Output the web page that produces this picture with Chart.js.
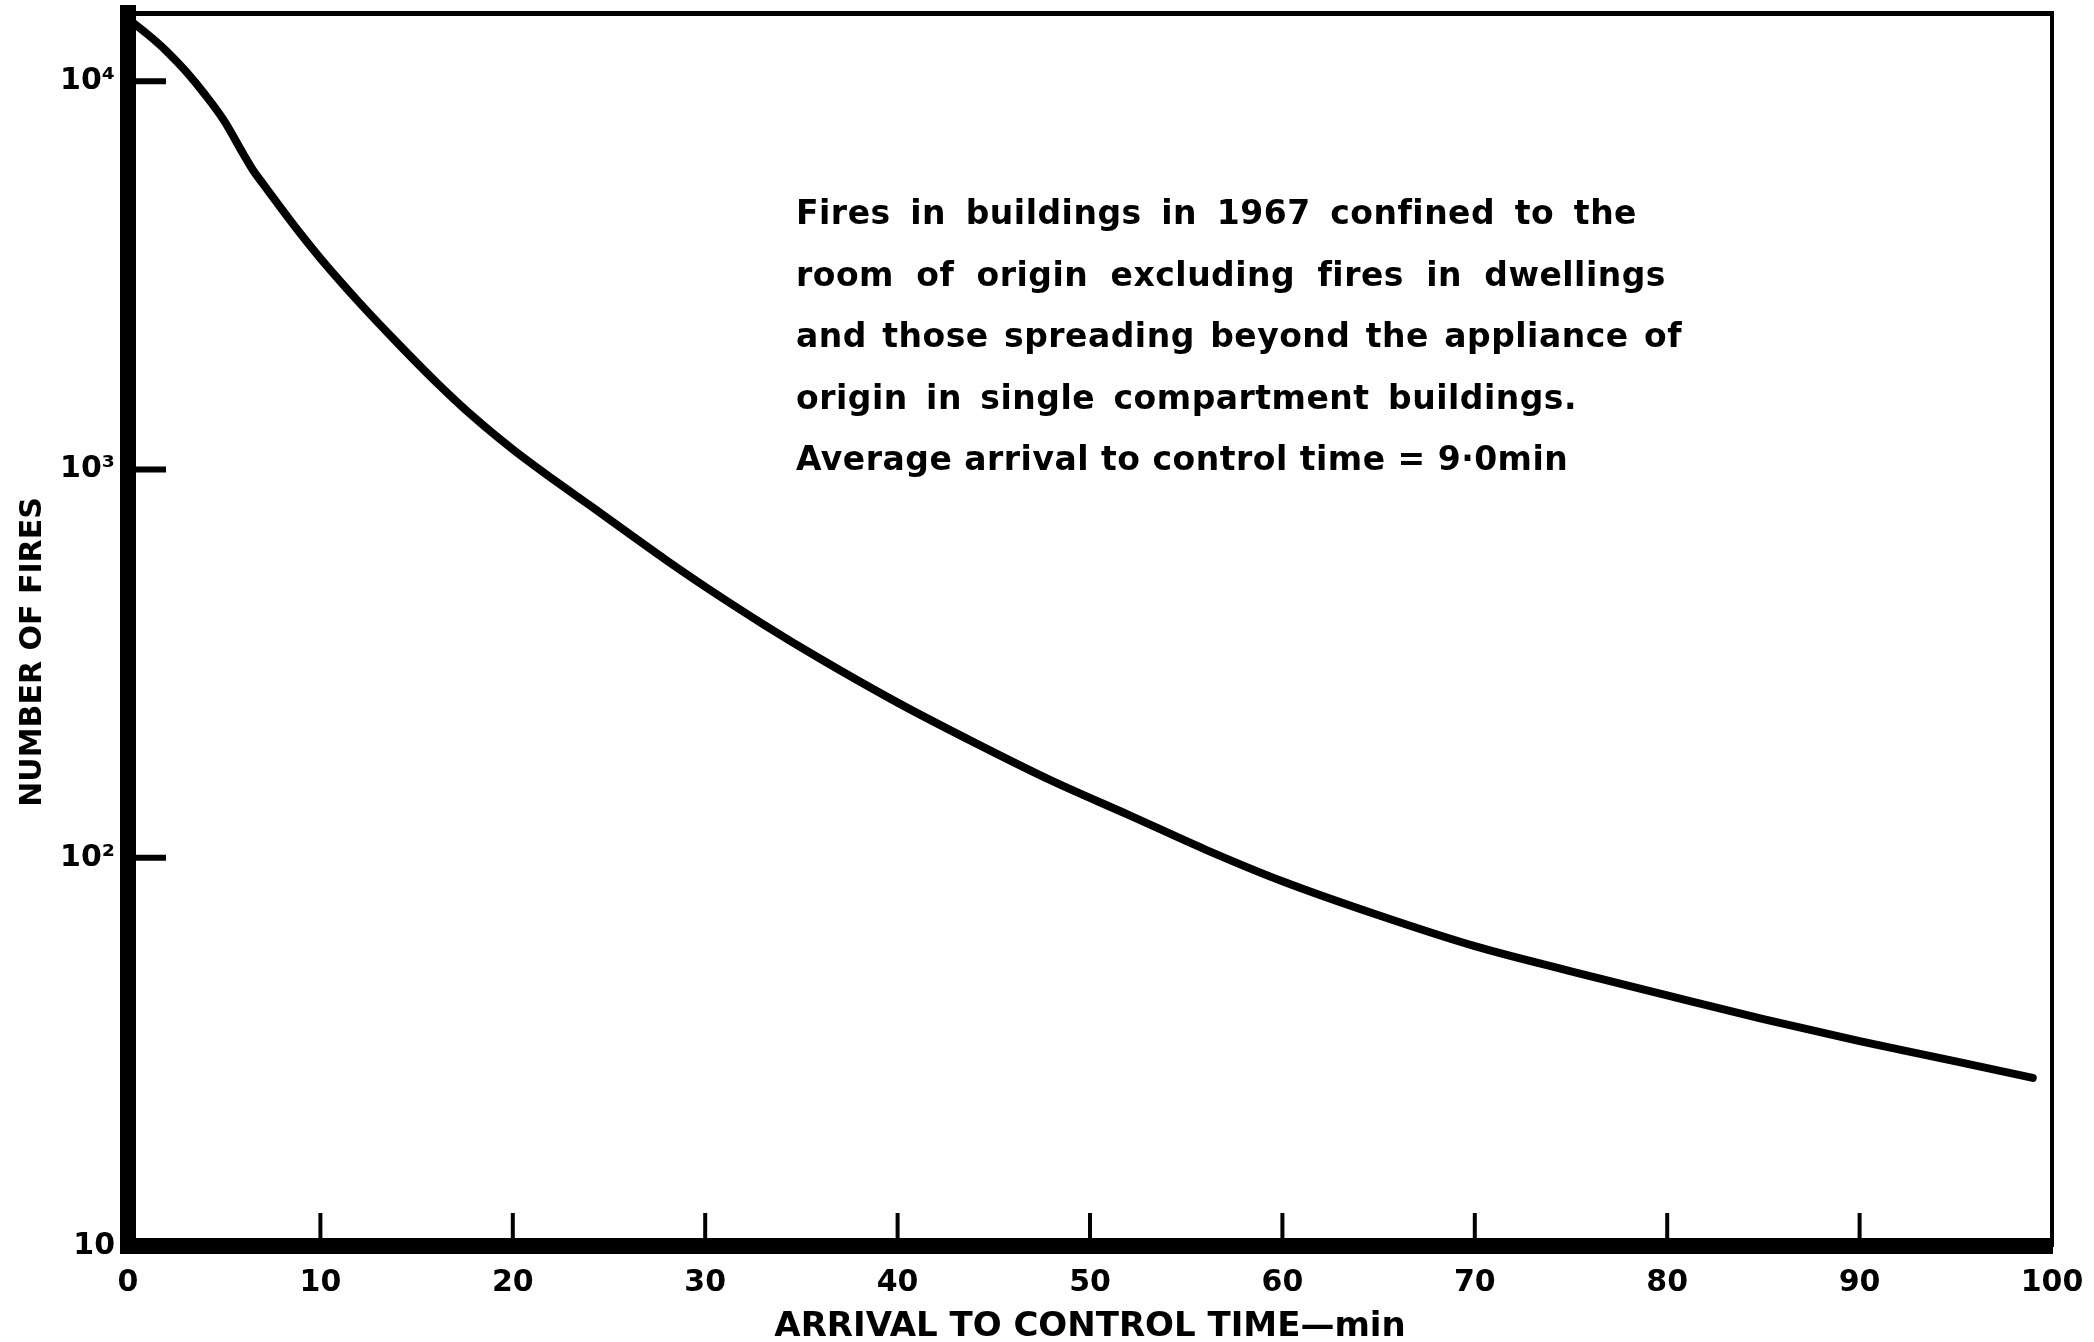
<!DOCTYPE html>
<html>
<head>
<meta charset="utf-8">
<script src="https://cdn.jsdelivr.net/npm/chart.js@4/dist/chart.umd.min.js"></script>
<style>
  html, body { margin: 0; padding: 0; background: #fff; }
  #wrap { width: 2094px; height: 1342px; }
</style>
</head>
<body>
<div id="wrap"><canvas id="c" width="2094" height="1342"></canvas></div>
<script>
// ---- data ----
const arrivalMinutes = [0, 1, 2, 3, 4, 5, 6, 6.5, 7, 8, 9, 10, 12, 14, 16, 18, 20, 22, 24, 26, 28, 30, 33, 36, 40, 44, 48, 52, 56, 60, 65, 70, 75, 80, 85, 90, 95, 99];
const numberOfFires = [14490, 13240, 11970, 10620, 9250, 7910, 6490, 5900, 5460, 4680, 4030, 3500, 2700, 2120, 1683, 1361, 1127, 951, 809, 686, 583, 499, 400, 325, 251, 198, 158, 129, 105, 87, 71.1, 59.2, 51.0, 44.2, 38.4, 33.7, 29.9, 27.1];
const xTickValues = [0, 10, 20, 30, 40, 50, 60, 70, 80, 90, 100];
const yTickValues = [10, 100, 1000, 10000];
const yTickLabels = ['10', '10²', '10³', '10⁴'];
const xTitle = 'ARRIVAL TO CONTROL TIME—min';
const yTitle = 'NUMBER OF FIRES';
const annotationLines = [
  'Fires in buildings in 1967 confined to the',
  'room of origin excluding fires in dwellings',
  'and those spreading beyond the appliance of',
  'origin in single compartment buildings.',
  'Average arrival to control time = 9·0min'
];

// ---- layout / style (not data) ----
const FONT = "'DejaVu Sans', sans-serif";
const annotLayout = { x: 796, firstBaseline: 224, lineGap: 61.5, widths: [841, 870, 886, 781, 771], size: 33 };
const yTitleLayout = { cx: 33, cy: 652, size: 30 };

const decorations = {
  id: 'decorations',
  afterDraw(chart) {
    const { ctx, chartArea: a, scales: { x, y } } = chart;
    ctx.save();
    ctx.strokeStyle = '#000';
    ctx.fillStyle = '#000';
    ctx.lineCap = 'butt';
    // inward tick marks on the x axis
    ctx.lineWidth = 4;
    xTickValues.forEach(v => {
      if (v <= x.min || v >= x.max) return;
      const px = x.getPixelForValue(v);
      ctx.beginPath();
      ctx.moveTo(px, a.bottom);
      ctx.lineTo(px, a.bottom - 33);
      ctx.stroke();
    });
    // inward tick marks on the y axis
    ctx.lineWidth = 6;
    yTickValues.forEach(v => {
      if (v <= y.min) return;
      const py = y.getPixelForValue(v);
      ctx.beginPath();
      ctx.moveTo(a.left, py);
      ctx.lineTo(a.left + 38, py);
      ctx.stroke();
    });
    // corner where the two thick axes meet
    ctx.fillRect(a.left - 8, a.bottom - 8, 16, 16);

    // y-axis title
    ctx.save();
    ctx.font = 'bold ' + yTitleLayout.size + 'px ' + FONT;
    ctx.textAlign = 'center';
    ctx.textBaseline = 'middle';
    ctx.translate(yTitleLayout.cx, yTitleLayout.cy);
    ctx.rotate(-Math.PI / 2);
    ctx.fillText(yTitle, 0, 0);
    ctx.restore();

    // annotation
    ctx.font = 'bold ' + annotLayout.size + 'px ' + FONT;
    ctx.textAlign = 'left';
    ctx.textBaseline = 'alphabetic';
    if ('letterSpacing' in ctx) ctx.letterSpacing = '0.5px';
    annotationLines.forEach((line, i) => {
      const yb = annotLayout.firstBaseline + i * annotLayout.lineGap;
      const target = annotLayout.widths[i];
      const nSpaces = (line.match(/ /g) || []).length;
      if ('wordSpacing' in ctx) {
        ctx.wordSpacing = '0px';
        const w0 = ctx.measureText(line).width;
        const extra = nSpaces ? Math.max(0, (target - w0) / nSpaces) : 0;
        ctx.wordSpacing = extra + 'px';
        ctx.fillText(line, annotLayout.x, yb);
        ctx.wordSpacing = '0px';
      } else {
        ctx.fillText(line, annotLayout.x, yb);
      }
    });
    ctx.restore();
  }
};

const gridOff = { display: false, drawTicks: false, tickLength: 0 };
function noEdgePadding(s) { s.paddingTop = 0; s.paddingBottom = 0; s.paddingLeft = 0; s.paddingRight = 0; }

new Chart(document.getElementById('c').getContext('2d'), {
  type: 'line',
  data: {
    datasets: [{
      data: arrivalMinutes.map((m, i) => ({ x: m, y: numberOfFires[i] })),
      borderColor: '#000',
      borderWidth: 8,
      pointRadius: 0,
      fill: false,
      cubicInterpolationMode: 'monotone',
      borderCapStyle: 'round'
    }]
  },
  options: {
    responsive: false,
    animation: false,
    devicePixelRatio: 1,
    layout: { padding: 0 },
    plugins: { legend: { display: false }, tooltip: { enabled: false }, title: { display: false } },
    scales: {
      x: {
        type: 'linear', position: 'bottom', min: 0, max: 100,
        afterBuildTicks: s => { s.ticks = xTickValues.map(v => ({ value: v })); },
        ticks: { autoSkip: false, maxRotation: 0, padding: 19, color: '#000', font: { family: FONT, size: 30, weight: 'bold' }, callback: v => String(v) },
        grid: gridOff,
        border: { display: true, width: 16, color: '#000' },
        title: { display: true, text: xTitle, color: '#000', font: { family: FONT, size: 34, weight: 'bold' }, padding: { top: 0, bottom: -6 } },
        afterFit: s => { s.height = 96; noEdgePadding(s); }
      },
      y: {
        type: 'logarithmic', position: 'left', min: 10, max: 15000,
        afterBuildTicks: s => { s.ticks = yTickValues.map(v => ({ value: v })); },
        ticks: { autoSkip: false, padding: 13, color: '#000', font: { family: FONT, size: 30, weight: 'bold' }, callback: v => yTickLabels[yTickValues.indexOf(v)] },
        grid: gridOff,
        border: { display: true, width: 16, color: '#000' },
        title: { display: false, text: yTitle },
        afterFit: s => { s.width = 128; noEdgePadding(s); }
      },
      xTop: {
        type: 'linear', position: 'top', min: 0, max: 100,
        ticks: { display: false }, grid: gridOff,
        border: { display: true, width: 5, color: '#000' },
        afterFit: s => { s.height = 13; noEdgePadding(s); }
      },
      yRight: {
        type: 'linear', position: 'right', min: 0, max: 1,
        ticks: { display: false }, grid: gridOff,
        border: { display: true, width: 4, color: '#000' },
        afterFit: s => { s.width = 42; noEdgePadding(s); }
      }
    }
  },
  plugins: [decorations]
});
</script>
</body>
</html>
